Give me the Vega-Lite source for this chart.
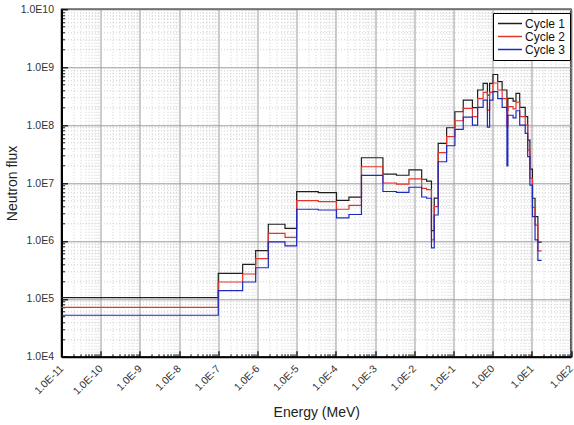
{
  "$schema": "https://vega.github.io/schema/vega-lite/v6.json",
  "width": 509.5,
  "height": 347.4,
  "autosize": {"type": "none"},
  "padding": {"left": 61.5, "top": 9.3, "right": 3, "bottom": 68.3},
  "config": {
    "view": {"stroke": "#111", "strokeWidth": 1.5},
    "font": "Liberation Sans",
    "axis": {"labelFont": "Liberation Sans", "titleFont": "Liberation Sans", "titleFontWeight": "normal"}
  },
  "datasets": {
    "flux": [
      {"E":1e-11,"F":1.05e5,"c":"Cycle 1"},{"E":1e-7,"F":2.75e5,"c":"Cycle 1"},{"E":4.19e-7,"F":3.94e5,"c":"Cycle 1"},{"E":9.0e-7,"F":6.78e5,"c":"Cycle 1"},{"E":1.89e-6,"F":1.94e6,"c":"Cycle 1"},{"E":5.04e-6,"F":1.65e6,"c":"Cycle 1"},{"E":1e-5,"F":7.08e6,"c":"Cycle 1"},{"E":3.56e-5,"F":6.8e6,"c":"Cycle 1"},{"E":1.04e-4,"F":5.02e6,"c":"Cycle 1"},{"E":2.16e-4,"F":5.69e6,"c":"Cycle 1"},{"E":4.5e-4,"F":2.73e7,"c":"Cycle 1"},{"E":1.59e-3,"F":1.42e7,"c":"Cycle 1"},{"E":3.52e-3,"F":1.36e7,"c":"Cycle 1"},{"E":7.33e-3,"F":1.68e7,"c":"Cycle 1"},{"E":1.55e-2,"F":1.16e7,"c":"Cycle 1"},{"E":2.07e-2,"F":1.08e7,"c":"Cycle 1"},{"E":2.75e-2,"F":1.51e6,"c":"Cycle 1"},{"E":3.24e-2,"F":5.5e6,"c":"Cycle 1"},{"E":4.09e-2,"F":4.85e7,"c":"Cycle 1"},{"E":6.71e-2,"F":9.0e7,"c":"Cycle 1"},{"E":0.109,"F":1.70e8,"c":"Cycle 1"},{"E":0.178,"F":2.71e8,"c":"Cycle 1"},{"E":0.305,"F":2.0e8,"c":"Cycle 1"},{"E":0.414,"F":4.04e8,"c":"Cycle 1"},{"E":0.573,"F":5.27e8,"c":"Cycle 1"},{"E":0.736,"F":3.3e8,"c":"Cycle 1"},{"E":0.838,"F":5.27e8,"c":"Cycle 1"},{"E":1.02,"F":7.48e8,"c":"Cycle 1"},{"E":1.35,"F":5.62e8,"c":"Cycle 1"},{"E":1.75,"F":4.04e8,"c":"Cycle 1"},{"E":2.32,"F":1.8e8,"c":"Cycle 1"},{"E":2.45,"F":2.9e8,"c":"Cycle 1"},{"E":3.33,"F":2.6e8,"c":"Cycle 1"},{"E":3.95,"F":3.54e8,"c":"Cycle 1"},{"E":4.91,"F":2.03e8,"c":"Cycle 1"},{"E":6.79,"F":1.4e8,"c":"Cycle 1"},{"E":7.85,"F":5.5e7,"c":"Cycle 1"},{"E":8.95,"F":1.73e7,"c":"Cycle 1"},{"E":10.4,"F":5.45e6,"c":"Cycle 1"},{"E":12.1,"F":2.62e6,"c":"Cycle 1"},{"E":14.3,"F":9.5e5,"c":"Cycle 1"},{"E":17.8,"F":9.5e5,"c":"Cycle 1"},
      {"E":1e-11,"F":7.1e4,"c":"Cycle 2"},{"E":1e-7,"F":1.95e5,"c":"Cycle 2"},{"E":4.19e-7,"F":2.68e5,"c":"Cycle 2"},{"E":9.0e-7,"F":4.93e5,"c":"Cycle 2"},{"E":1.89e-6,"F":1.35e6,"c":"Cycle 2"},{"E":5.04e-6,"F":1.15e6,"c":"Cycle 2"},{"E":1e-5,"F":4.95e6,"c":"Cycle 2"},{"E":3.56e-5,"F":4.75e6,"c":"Cycle 2"},{"E":1.04e-4,"F":3.52e6,"c":"Cycle 2"},{"E":2.16e-4,"F":4.12e6,"c":"Cycle 2"},{"E":4.5e-4,"F":1.91e7,"c":"Cycle 2"},{"E":1.59e-3,"F":1.0e7,"c":"Cycle 2"},{"E":3.52e-3,"F":9.6e6,"c":"Cycle 2"},{"E":7.33e-3,"F":1.18e7,"c":"Cycle 2"},{"E":1.55e-2,"F":8.1e6,"c":"Cycle 2"},{"E":2.07e-2,"F":7.7e6,"c":"Cycle 2"},{"E":2.75e-2,"F":1.04e6,"c":"Cycle 2"},{"E":3.24e-2,"F":3.9e6,"c":"Cycle 2"},{"E":4.09e-2,"F":3.34e7,"c":"Cycle 2"},{"E":6.71e-2,"F":6.3e7,"c":"Cycle 2"},{"E":0.109,"F":1.19e8,"c":"Cycle 2"},{"E":0.178,"F":1.95e8,"c":"Cycle 2"},{"E":0.305,"F":1.40e8,"c":"Cycle 2"},{"E":0.414,"F":2.86e8,"c":"Cycle 2"},{"E":0.573,"F":3.68e8,"c":"Cycle 2"},{"E":0.736,"F":1.82e8,"c":"Cycle 2"},{"E":0.838,"F":3.68e8,"c":"Cycle 2"},{"E":1.02,"F":5.33e8,"c":"Cycle 2"},{"E":1.35,"F":4.04e8,"c":"Cycle 2"},{"E":1.75,"F":2.86e8,"c":"Cycle 2"},{"E":2.32,"F":9.4e7,"c":"Cycle 2"},{"E":2.45,"F":2.08e8,"c":"Cycle 2"},{"E":3.33,"F":1.9e8,"c":"Cycle 2"},{"E":3.95,"F":2.5e8,"c":"Cycle 2"},{"E":4.91,"F":1.4e8,"c":"Cycle 2"},{"E":6.79,"F":1.0e8,"c":"Cycle 2"},{"E":7.85,"F":3.7e7,"c":"Cycle 2"},{"E":8.95,"F":1.2e7,"c":"Cycle 2"},{"E":10.4,"F":3.8e6,"c":"Cycle 2"},{"E":12.1,"F":1.88e6,"c":"Cycle 2"},{"E":14.3,"F":6.7e5,"c":"Cycle 2"},{"E":17.8,"F":6.7e5,"c":"Cycle 2"},
      {"E":1e-11,"F":5.2e4,"c":"Cycle 3"},{"E":1e-7,"F":1.38e5,"c":"Cycle 3"},{"E":4.19e-7,"F":1.95e5,"c":"Cycle 3"},{"E":9.0e-7,"F":3.44e5,"c":"Cycle 3"},{"E":1.89e-6,"F":9.6e5,"c":"Cycle 3"},{"E":5.04e-6,"F":8.2e5,"c":"Cycle 3"},{"E":1e-5,"F":3.52e6,"c":"Cycle 3"},{"E":3.56e-5,"F":3.42e6,"c":"Cycle 3"},{"E":1.04e-4,"F":2.49e6,"c":"Cycle 3"},{"E":2.16e-4,"F":2.86e6,"c":"Cycle 3"},{"E":4.5e-4,"F":1.35e7,"c":"Cycle 3"},{"E":1.59e-3,"F":7.13e6,"c":"Cycle 3"},{"E":3.52e-3,"F":6.9e6,"c":"Cycle 3"},{"E":7.33e-3,"F":8.45e6,"c":"Cycle 3"},{"E":1.55e-2,"F":5.73e6,"c":"Cycle 3"},{"E":2.07e-2,"F":5.45e6,"c":"Cycle 3"},{"E":2.75e-2,"F":7.6e5,"c":"Cycle 3"},{"E":3.24e-2,"F":2.8e6,"c":"Cycle 3"},{"E":4.09e-2,"F":2.33e7,"c":"Cycle 3"},{"E":6.71e-2,"F":4.4e7,"c":"Cycle 3"},{"E":0.109,"F":8.45e7,"c":"Cycle 3"},{"E":0.178,"F":1.37e8,"c":"Cycle 3"},{"E":0.305,"F":1.0e8,"c":"Cycle 3"},{"E":0.414,"F":2.03e8,"c":"Cycle 3"},{"E":0.573,"F":2.71e8,"c":"Cycle 3"},{"E":0.736,"F":9.2e7,"c":"Cycle 3"},{"E":0.838,"F":2.71e8,"c":"Cycle 3"},{"E":1.02,"F":3.78e8,"c":"Cycle 3"},{"E":1.35,"F":2.86e8,"c":"Cycle 3"},{"E":1.75,"F":2.03e8,"c":"Cycle 3"},{"E":2.32,"F":1.97e7,"c":"Cycle 3"},{"E":2.45,"F":1.48e8,"c":"Cycle 3"},{"E":3.33,"F":1.33e8,"c":"Cycle 3"},{"E":3.95,"F":1.77e8,"c":"Cycle 3"},{"E":4.91,"F":1.0e8,"c":"Cycle 3"},{"E":6.79,"F":7.2e7,"c":"Cycle 3"},{"E":7.85,"F":2.85e7,"c":"Cycle 3"},{"E":8.95,"F":9.2e6,"c":"Cycle 3"},{"E":10.4,"F":2.62e6,"c":"Cycle 3"},{"E":12.1,"F":1.04e6,"c":"Cycle 3"},{"E":14.3,"F":4.6e5,"c":"Cycle 3"},{"E":17.8,"F":4.6e5,"c":"Cycle 3"}
    ]
  },
  "data": {"name": "flux"},
  "layer": [
    {
      "mark": {"type": "point", "opacity": 0},
      "encoding": {
        "x": {"field": "E", "type": "quantitative",
          "scale": {"type": "log", "domain": [1e-11, 100], "nice": false},
          "axis": {"orient": "bottom", "title": null, "labels": false, "domain": false,
            "values": [2e-11,3e-11,4e-11,5e-11,6e-11,7e-11,8e-11,9e-11,2e-10,3e-10,4e-10,5e-10,6e-10,7e-10,8e-10,9e-10,2e-9,3e-9,4e-9,5e-9,6e-9,7e-9,8e-9,9e-9,2e-8,3e-8,4e-8,5e-8,6e-8,7e-8,8e-8,9e-8,2e-7,3e-7,4e-7,5e-7,6e-7,7e-7,8e-7,9e-7,2e-6,3e-6,4e-6,5e-6,6e-6,7e-6,8e-6,9e-6,2e-5,3e-5,4e-5,5e-5,6e-5,7e-5,8e-5,9e-5,2e-4,3e-4,4e-4,5e-4,6e-4,7e-4,8e-4,9e-4,0.002,0.003,0.004,0.005,0.006,0.007,0.008,0.009,0.02,0.03,0.04,0.05,0.06,0.07,0.08,0.09,0.2,0.3,0.4,0.5,0.6,0.7,0.8,0.9,2,3,4,5,6,7,8,9,20,30,40,50,60,70,80,90],
            "grid": true, "gridColor": "#c4c4c4", "gridDash": [1, 2], "gridWidth": 0.8,
            "ticks": true, "tickSize": -3, "tickColor": "#111", "tickWidth": 1}},
        "y": {"field": "F", "type": "quantitative",
          "scale": {"type": "log", "domain": [1e4, 1e10], "nice": false},
          "axis": {"orient": "left", "title": null, "labels": false, "domain": false,
            "values": [2e4,3e4,4e4,5e4,6e4,7e4,8e4,9e4,2e5,3e5,4e5,5e5,6e5,7e5,8e5,9e5,2e6,3e6,4e6,5e6,6e6,7e6,8e6,9e6,2e7,3e7,4e7,5e7,6e7,7e7,8e7,9e7,2e8,3e8,4e8,5e8,6e8,7e8,8e8,9e8,2e9,3e9,4e9,5e9,6e9,7e9,8e9,9e9],
            "grid": true, "gridColor": "#c4c4c4", "gridDash": [1, 2], "gridWidth": 0.8,
            "ticks": true, "tickSize": -3, "tickColor": "#111", "tickWidth": 1}}
      }
    },
    {
      "mark": {"type": "line", "interpolate": "step-after", "strokeWidth": 1.2},
      "encoding": {
        "x": {"field": "E", "type": "quantitative",
          "scale": {"type": "log", "domain": [1e-11, 100], "nice": false},
          "axis": {"orient": "bottom", "title": "Energy (MeV)", "titleFontSize": 14, "titleColor": "#222",
            "titleX": 254.75, "titleY": 56, "titleBaseline": "middle", "titleAnchor": "middle",
            "values": [1e-11,1e-10,1e-9,1e-8,1e-7,1e-6,1e-5,1e-4,0.001,0.01,0.1,1,10,100],
            "labelExpr": "'1.0E' + round(log(datum.value)/LN10)",
            "labelAngle": -45, "labelAlign": "right", "labelBaseline": "middle",
            "labelFontSize": 10.5, "labelColor": "#333", "labelPadding": 16, "labelFlush": false, "labelOverlap": false,
            "grid": true, "gridColor": "#9a9a9a", "gridWidth": 1,
            "domain": true, "domainColor": "#000", "domainWidth": 2,
            "ticks": true, "tickSize": -6, "tickColor": "#000", "tickWidth": 1.2}},
        "y": {"field": "F", "type": "quantitative",
          "scale": {"type": "log", "domain": [1e4, 1e10], "nice": false},
          "axis": {"orient": "left", "title": "Neutron flux", "titleFontSize": 14, "titleColor": "#222",
            "titleX": -49.5, "titleY": 173.7, "titleAngle": -90, "titleBaseline": "middle", "titleAnchor": "middle",
            "values": [1e4,1e5,1e6,1e7,1e8,1e9,1e10],
            "labelExpr": "'1.0E' + round(log(datum.value)/LN10)",
            "labelFontSize": 10.5, "labelColor": "#333", "labelPadding": 14, "labelFlush": false, "labelOverlap": false,
            "grid": true, "gridColor": "#9a9a9a", "gridWidth": 1,
            "domain": true, "domainColor": "#000", "domainWidth": 2,
            "ticks": true, "tickSize": -6, "tickColor": "#000", "tickWidth": 1.2}},
        "color": {"field": "c", "type": "nominal",
          "scale": {"domain": ["Cycle 1", "Cycle 2", "Cycle 3"], "range": ["#1e1e1e", "#e2352b", "#1d2bbd"]},
          "legend": {"title": null, "orient": "none", "legendX": 431.5, "legendY": 3.7,
            "symbolType": "stroke", "symbolSize": 576, "symbolStrokeWidth": 1.5,
            "labelFontSize": 12, "labelFont": "Liberation Sans", "labelColor": "#111", "labelOffset": 2,
            "clipHeight": 13, "rowPadding": 0, "padding": 4,
            "strokeColor": "#000", "fillColor": "#ffffff"}}
      }
    }
  ],
  "resolve": {"axis": {"x": "independent", "y": "independent"}}
}
